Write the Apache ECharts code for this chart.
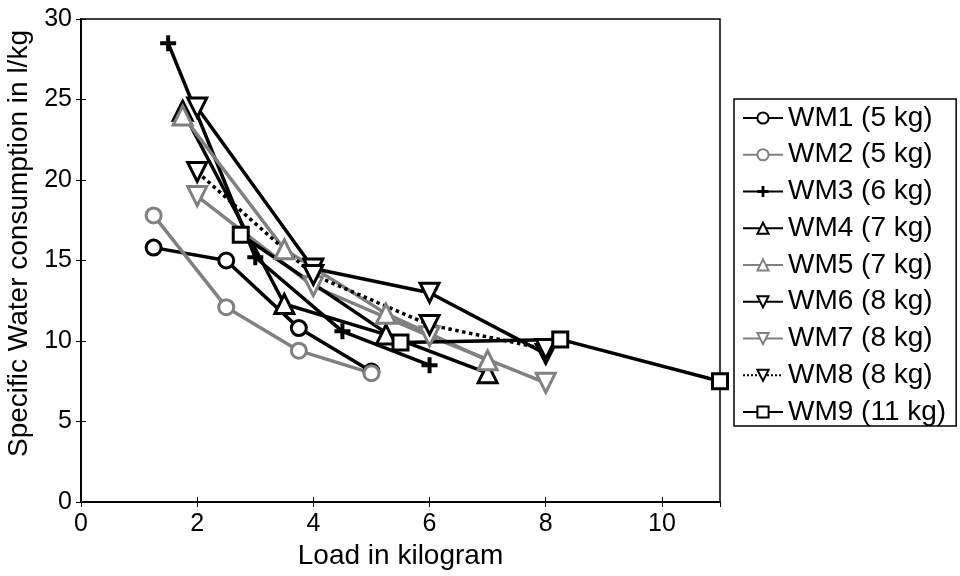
<!DOCTYPE html>
<html><head><meta charset="utf-8">
<script src="https://cdn.jsdelivr.net/npm/echarts@6/dist/echarts.min.js"></script>
<style>html,body{margin:0;padding:0;background:#fff}#c{width:960px;height:576px}</style>
</head><body><div id="c"></div>
<script>
// Data
const seriesNames = ['WM1 (5 kg)','WM2 (5 kg)','WM3 (6 kg)','WM4 (7 kg)','WM5 (7 kg)','WM6 (8 kg)','WM7 (8 kg)','WM8 (8 kg)','WM9 (11 kg)'];
const xWM1 = [1.25, 2.5, 3.75, 5];   const yWM1 = [15.8, 15.0, 10.8, 8.1];
const xWM2 = [1.25, 2.5, 3.75, 5];   const yWM2 = [17.8, 12.1, 9.4, 8.0];
const xWM3 = [1.5, 3, 4.5, 6];       const yWM3 = [28.5, 15.2, 10.6, 8.5];
const xWM4 = [1.75, 3.5, 5.25, 7];   const yWM4 = [24.3, 12.3, 10.4, 8.0];
const xWM5 = [1.75, 3.5, 5.25, 7];   const yWM5 = [24.0, 15.7, 11.7, 8.8];
const xWM6 = [2, 4, 6, 8];           const yWM6 = [24.5, 14.5, 13.0, 9.2];
const xWM7 = [2, 4, 6, 8];           const yWM7 = [19.0, 13.4, 10.3, 7.4];
const xWM8 = [2, 4, 6, 8];           const yWM8 = [20.5, 14.1, 11.0, 9.5];
const xWM9 = [2.75, 5.5, 8.25, 11];  const yWM9 = [16.6, 9.9, 10.1, 7.5];
const xTicks = [0, 2, 4, 6, 8, 10];
const yTicks = [0, 5, 10, 15, 20, 25, 30];

const BLACK = '#000000', GRAY = '#808080';
const PLUS = 'path://M6,0h4v6h6v4h-6v6h-4v-6h-6v-4h6z';
const styles = [
  {c: BLACK, s: 'circle',   size: 15, rot: 0,   dash: 'solid', fill: '#fff'},
  {c: GRAY,  s: 'circle',   size: 15, rot: 0,   dash: 'solid', fill: '#fff'},
  {c: BLACK, s: PLUS,       size: 16, rot: 0,   dash: 'solid', fill: BLACK},
  {c: BLACK, s: 'triangle', size: 19, rot: 0,   dash: 'solid', fill: '#fff'},
  {c: GRAY,  s: 'triangle', size: 19, rot: 0,   dash: 'solid', fill: '#fff'},
  {c: BLACK, s: 'triangle', size: 19, rot: 180, dash: 'solid', fill: '#fff'},
  {c: GRAY,  s: 'triangle', size: 19, rot: 180, dash: 'solid', fill: '#fff'},
  {c: BLACK, s: 'triangle', size: 19, rot: 180, dash: 'dotted', fill: '#fff'},
  {c: BLACK, s: 'rect',     size: 15, rot: 0,   dash: 'solid', fill: '#fff'}
];
const xs = [xWM1,xWM2,xWM3,xWM4,xWM5,xWM6,xWM7,xWM8,xWM9];
const ys = [yWM1,yWM2,yWM3,yWM4,yWM5,yWM6,yWM7,yWM8,yWM9];

const series = seriesNames.map((n, i) => ({
  name: n, type: 'line',
  data: xs[i].map((x, j) => [x, ys[i][j]]),
  symbol: styles[i].s, symbolSize: styles[i].size, symbolRotate: styles[i].rot,
  showAllSymbol: true,
  lineStyle: {color: styles[i].c, width: 3.5, type: styles[i].dash},
  itemStyle: {color: styles[i].fill, borderColor: styles[i].c, borderWidth: styles[i].fill === '#fff' ? 3 : 0},
  emphasis: {disabled: true},
  animation: false
}));

const FONT = 'Liberation Sans, Arial, sans-serif';
const chart = echarts.init(document.getElementById('c'));
chart.setOption({
  backgroundColor: '#fff',
  animation: false,
  grid: {left: 81, right: 240, top: 19, bottom: 74, containLabel: false, outerBoundsMode: 'none',
    show: true, borderColor: '#000', borderWidth: 1.5, backgroundColor: 'transparent'},
  legend: {
    orient: 'vertical', left: 734, top: 99,
    backgroundColor: '#fff', borderColor: '#000', borderWidth: 1.5,
    padding: [5, 10, 0, 8],
    itemWidth: 40, itemHeight: 14, itemGap: 8.75,
    textStyle: {fontFamily: FONT, fontSize: 28, color: '#000', lineHeight: 28},
    data: seriesNames
  },
  xAxis: [{
    type: 'value', min: 0, max: 11, interval: 2,
    name: 'Load in kilogram', nameLocation: 'middle', nameGap: 35,
    nameTextStyle: {fontFamily: FONT, fontSize: 28, color: '#000'},
    axisLine: {show: true, onZero: false, lineStyle: {color: '#000', width: 1.5}},
    axisTick: {show: true, inside: true, length: 5, lineStyle: {color: '#000'}},
    axisLabel: {fontFamily: FONT, fontSize: 25, color: '#000', margin: 10, showMaxLabel: false,
      formatter: v => xTicks.includes(v) ? String(v) : ''},
    splitLine: {show: false}
  }, {
    type: 'value', min: 0, max: 11, interval: 2, position: 'top',
    axisLine: {show: true, lineStyle: {color: '#000', width: 1.5}},
    axisTick: {show: true, inside: true, length: 5, lineStyle: {color: '#000'}},
    axisLabel: {show: false}, splitLine: {show: false}
  }],
  yAxis: [{
    type: 'value', min: 0, max: 30, interval: 5,
    name: 'Specific Water consumption in l/kg', nameLocation: 'middle', nameGap: 35,
    nameTextStyle: {fontFamily: FONT, fontSize: 28, color: '#000', padding: [0, 0, 0, 34]},
    axisLine: {show: true, onZero: false, lineStyle: {color: '#000', width: 1.5}},
    axisTick: {show: true, inside: true, length: 5, lineStyle: {color: '#000'}},
    axisLabel: {fontFamily: FONT, fontSize: 25, color: '#000', margin: 9,
      formatter: v => yTicks.includes(v) ? String(v) : ''},
    splitLine: {show: false}
  }, {
    type: 'value', min: 0, max: 30, interval: 5, position: 'right',
    axisLine: {show: true, lineStyle: {color: '#000', width: 1.5}},
    axisTick: {show: true, inside: true, length: 5, lineStyle: {color: '#000'}},
    axisLabel: {show: false}, splitLine: {show: false}
  }],
  series: series
});
</script></body></html>
